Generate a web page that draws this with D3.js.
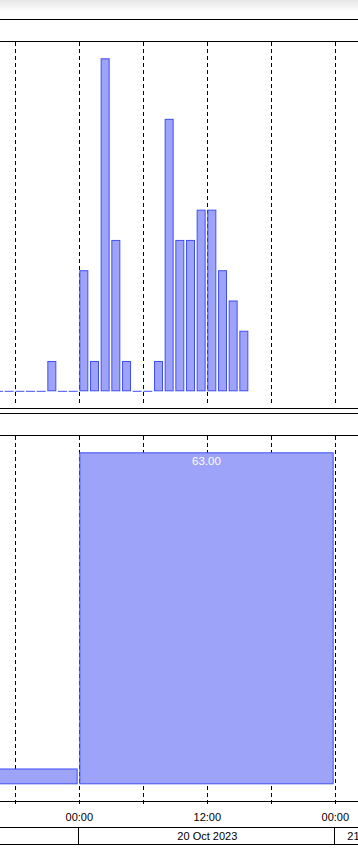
<!DOCTYPE html>
<html>
<head>
<meta charset="utf-8">
<script src="https://cdn.jsdelivr.net/npm/d3@7"></script>
<style>
  html, body { margin: 0; padding: 0; background: #fff; }
  svg { display: block; font-family: "Liberation Sans", Arial, sans-serif; }
</style>
</head>
<body>
<div id="chart"></div>
<script>
// Datos: conteos horarios (panel superior) y diarios (panel inferior)
const hourlyTimes = [
  '2023-10-19T16:00', '2023-10-19T17:00', '2023-10-19T18:00', '2023-10-19T19:00',
  '2023-10-19T20:00', '2023-10-19T21:00', '2023-10-19T22:00', '2023-10-19T23:00',
  '2023-10-20T00:00', '2023-10-20T01:00', '2023-10-20T02:00', '2023-10-20T03:00',
  '2023-10-20T04:00', '2023-10-20T05:00', '2023-10-20T06:00', '2023-10-20T07:00',
  '2023-10-20T08:00', '2023-10-20T09:00', '2023-10-20T10:00', '2023-10-20T11:00',
  '2023-10-20T12:00', '2023-10-20T13:00', '2023-10-20T14:00', '2023-10-20T15:00'
];
const hourlyCounts = [0, 0, 0, 0, 0, 1, 0, 0, 4, 1, 11, 5, 1, 0, 0, 1, 9, 5, 5, 6, 6, 4, 3, 2];

const dailyDays = ['2023-10-19', '2023-10-20'];
const dailyCounts = [3, 63];

const dateRowDays = ['2023-10-19', '2023-10-20', '2023-10-21'];
const dateRowLabels = ['19 Oct 2023', '20 Oct 2023', '21 Oct 2023'];

const FILL = '#9ea3fa', STROKE = '#3f4ff5';

const W = 358, H = 865;
const parse = s => new Date(s.length > 10 ? s + ':00Z' : s + 'T00:00:00Z');

const svg = d3.select('#chart').append('svg')
  .attr('width', W).attr('height', H);

// sombra superior
const defs = svg.append('defs');
const grad = defs.append('linearGradient').attr('id', 'shade')
  .attr('x1', 0).attr('y1', 0).attr('x2', 0).attr('y2', 1);
grad.append('stop').attr('offset', '0%').attr('stop-color', '#e6e6e6');
grad.append('stop').attr('offset', '100%').attr('stop-color', '#ffffff');
svg.append('rect').attr('x', 0).attr('y', 0).attr('width', W).attr('height', 12).attr('fill', 'url(#shade)');

// escala temporal común
const x = d3.scaleUtc()
  .domain([parse('2023-10-19T18:00'), parse('2023-10-21T00:00')])
  .range([15.33, 335.33]);

const gridTicks = d3.utcHour.every(6).range(parse('2023-10-19T00:00'), parse('2023-10-22T00:00'))
  .filter(d => x(d) > -5 && x(d) < W + 5);

function hline(y) {
  svg.append('line').attr('x1', 0).attr('x2', W).attr('y1', y).attr('y2', y)
    .attr('stroke', '#000').attr('stroke-width', 1);
}
function grid(y1, y2) {
  svg.append('g').selectAll('line').data(gridTicks).enter().append('line')
    .attr('x1', d => Math.round(x(d)) + 0.5).attr('x2', d => Math.round(x(d)) + 0.5)
    .attr('y1', y1).attr('y2', y2)
    .attr('stroke', '#000').attr('stroke-width', 1).attr('stroke-dasharray', '4,3');
}

//////
///// Panel superior (horario)
//////
const yTop = d3.scaleLinear().domain([0, 11]).range([391.3, 58.3]);
hline(19.5);
hline(41.5);
grid(42, 405);

const hourly = hourlyTimes.map((t, i) => ({ t: parse(t), v: hourlyCounts[i] }));
const hourW = d => x(d3.utcHour.offset(d.t, 1)) - x(d.t) - 1.67;

svg.append('g').selectAll('rect').data(hourly.filter(d => d.v > 0)).enter().append('rect')
  .attr('x', d => x(d.t) + 0.5)
  .attr('y', d => yTop(d.v) + 0.5)
  .attr('width', d => hourW(d) - 1)
  .attr('height', d => yTop(0) - yTop(d.v) - 1)
  .attr('fill', FILL).attr('stroke', STROKE).attr('stroke-width', 1);

svg.append('g').selectAll('line').data(hourly.filter(d => d.v === 0)).enter().append('line')
  .attr('x1', d => x(d.t)).attr('x2', d => x(d.t) + hourW(d))
  .attr('y1', yTop(0)).attr('y2', yTop(0))
  .attr('stroke', STROKE).attr('stroke-width', 1);

hline(408.5);
hline(413.5);

//////
///// Panel inferior (diario)
//////
const yBot = d3.scaleLinear().domain([0, 63]).range([784.3, 452.3]);
hline(435.5);
grid(436, 806);

const daily = dailyDays.map((d, i) => ({ t: parse(d), v: dailyCounts[i] }));
const dayW = d => x(d3.utcDay.offset(d.t, 1)) - x(d.t) - 1.67;

svg.append('g').selectAll('rect').data(daily).enter().append('rect')
  .attr('x', d => x(d.t) + 0.5)
  .attr('y', d => yBot(d.v) + 0.5)
  .attr('width', d => dayW(d) - 1)
  .attr('height', d => yBot(0) - yBot(d.v) - 1)
  .attr('fill', FILL).attr('stroke', STROKE).attr('stroke-width', 1);

// etiquetas de valor, sólo las que caen dentro de la vista
const dayCenter = d => x(d.t) + dayW(d) / 2;
svg.append('g').selectAll('text').data(daily.filter(d => dayCenter(d) > 20 && dayCenter(d) < W - 20)).enter().append('text')
  .attr('x', dayCenter)
  .attr('y', d => yBot(d.v) + 13)
  .attr('text-anchor', 'middle')
  .attr('font-size', 11.5).attr('fill', '#fff')
  .text(d => d3.format('.2f')(d.v));

hline(801.5);

// etiquetas horarias
const labelTicks = gridTicks.filter(d => d.getUTCHours() % 12 === 0);
svg.append('g').selectAll('text').data(labelTicks).enter().append('text')
  .attr('x', d => x(d)).attr('y', 821)
  .attr('text-anchor', 'middle').attr('font-size', 11).attr('fill', '#000')
  .text(d3.utcFormat('%H:%M'));

// fila de fechas
hline(827.5);
hline(844.5);
const dateRow = dateRowDays.map((d, i) => ({ t: parse(d), label: dateRowLabels[i] }));
svg.append('g').selectAll('line').data(dateRow).enter().append('line')
  .attr('x1', d => Math.round(x(d.t)) - 0.5).attr('x2', d => Math.round(x(d.t)) - 0.5)
  .attr('y1', 827.5).attr('y2', 844.5)
  .attr('stroke', '#000').attr('stroke-width', 1);

// centrada si el centro del día es visible; si no, pegada al inicio de la celda
const rowPos = d => {
  const c = (x(d.t) + x(d3.utcDay.offset(d.t, 1))) / 2;
  return (c > 0 && c < W) ? { x: c, anchor: 'middle' } : { x: x(d.t) + 12, anchor: 'start' };
};
svg.append('g').selectAll('text').data(dateRow.filter(d => rowPos(d).x > 0 && rowPos(d).x < W)).enter().append('text')
  .attr('x', d => rowPos(d).x)
  .attr('text-anchor', d => rowPos(d).anchor)
  .attr('y', 840).attr('font-size', 11).attr('fill', '#000')
  .text(d => d.label);
</script>
</body>
</html>
